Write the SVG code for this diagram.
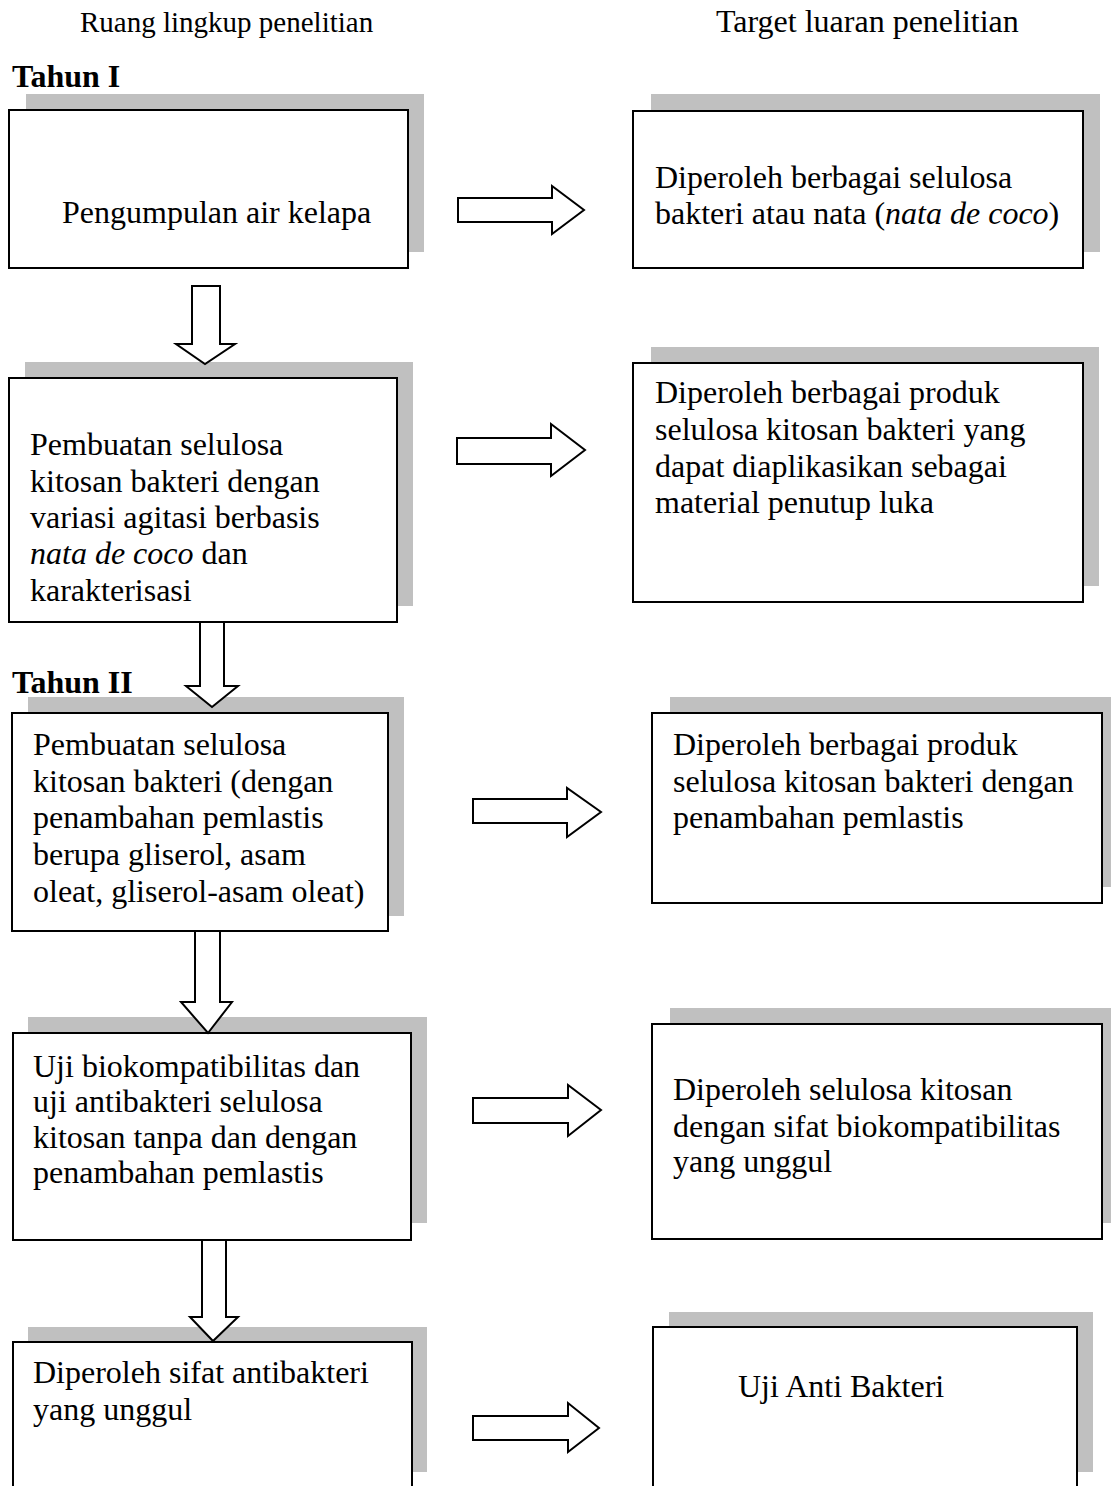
<svg xmlns="http://www.w3.org/2000/svg" width="1111" height="1486" viewBox="0 0 1111 1486">
<style>
.bg{fill:#ffffff}
.sh{fill:#c0c0c0}
.bx{fill:#ffffff;stroke:#000000;stroke-width:2}
.ar{fill:#ffffff;stroke:#000000;stroke-width:2;stroke-linejoin:miter}
.t{font-family:"Liberation Serif","Times New Roman",serif;font-size:32px;fill:#000000}
.h{font-family:"Liberation Serif","Times New Roman",serif;font-size:29px;fill:#000000}
.b{font-family:"Liberation Serif","Times New Roman",serif;font-size:32px;font-weight:bold;fill:#000000}
.i{font-style:italic}
</style>
<rect class="bg" x="0" y="0" width="1111" height="1486"/>
<g id="headers">
<text class="h" x="80" y="32">Ruang lingkup penelitian</text>
<text class="t" x="716" y="32">Target luaran penelitian</text>
<text class="b" x="12" y="87">Tahun I</text>
<text class="b" x="12" y="693">Tahun II</text>
</g>
<g id="node-L1">
<rect class="sh" x="26" y="94" width="398" height="158"/>
<rect class="bx" x="9" y="110" width="399" height="158"/>
<text class="t" x="62" y="223">Pengumpulan air kelapa</text>
</g>
<g id="node-R1">
<rect class="sh" x="651" y="94" width="449" height="158"/>
<rect class="bx" x="633" y="111" width="450" height="157"/>
<text class="t" x="655" y="188">Diperoleh berbagai selulosa</text>
<text class="t" x="655" y="224">bakteri atau nata (<tspan class="i">nata de coco</tspan>)</text>
</g>
<g id="node-L2">
<rect class="sh" x="25" y="362" width="388" height="244"/>
<rect class="bx" x="9" y="378" width="388" height="244"/>
<text class="t" x="30" y="455">Pembuatan selulosa</text>
<text class="t" x="30" y="492">kitosan bakteri dengan</text>
<text class="t" x="30" y="528">variasi agitasi berbasis</text>
<text class="t" x="30" y="564"><tspan class="i">nata de coco</tspan> dan</text>
<text class="t" x="30" y="601">karakterisasi</text>
</g>
<g id="node-R2">
<rect class="sh" x="651" y="347" width="448" height="239"/>
<rect class="bx" x="633" y="363" width="450" height="239"/>
<text class="t" x="655" y="403">Diperoleh berbagai produk</text>
<text class="t" x="655" y="440">selulosa kitosan bakteri yang</text>
<text class="t" x="655" y="477">dapat diaplikasikan sebagai</text>
<text class="t" x="655" y="513">material penutup luka</text>
</g>
<g id="node-L3">
<rect class="sh" x="28" y="697" width="376" height="219"/>
<rect class="bx" x="12" y="713" width="376" height="218"/>
<text class="t" x="33" y="755">Pembuatan selulosa</text>
<text class="t" x="33" y="792">kitosan bakteri (dengan</text>
<text class="t" x="33" y="828">penambahan pemlastis</text>
<text class="t" x="33" y="865">berupa gliserol, asam</text>
<text class="t" x="33" y="902">oleat, gliserol-asam oleat)</text>
</g>
<g id="node-R3">
<rect class="sh" x="670" y="697" width="450" height="190"/>
<rect class="bx" x="652" y="713" width="450" height="190"/>
<text class="t" x="673" y="755">Diperoleh berbagai produk</text>
<text class="t" x="673" y="792">selulosa kitosan bakteri dengan</text>
<text class="t" x="673" y="828">penambahan pemlastis</text>
</g>
<g id="node-L4">
<rect class="sh" x="28" y="1017" width="399" height="206"/>
<rect class="bx" x="13" y="1033" width="398" height="207"/>
<text class="t" x="33" y="1077">Uji biokompatibilitas dan</text>
<text class="t" x="33" y="1112">uji antibakteri selulosa</text>
<text class="t" x="33" y="1148">kitosan tanpa dan dengan</text>
<text class="t" x="33" y="1183">penambahan pemlastis</text>
</g>
<g id="node-R4">
<rect class="sh" x="670" y="1008" width="450" height="215"/>
<rect class="bx" x="652" y="1024" width="450" height="215"/>
<text class="t" x="673" y="1100">Diperoleh selulosa kitosan</text>
<text class="t" x="673" y="1137">dengan sifat biokompatibilitas</text>
<text class="t" x="673" y="1172">yang unggul</text>
</g>
<g id="node-L5">
<rect class="sh" x="28" y="1327" width="399" height="145"/>
<rect class="bx" x="13" y="1342" width="399" height="160"/>
<text class="t" x="33" y="1383">Diperoleh sifat antibakteri</text>
<text class="t" x="33" y="1420">yang unggul</text>
</g>
<g id="node-R5">
<rect class="sh" x="669" y="1312" width="424" height="160"/>
<rect class="bx" x="653" y="1327" width="424" height="175"/>
<text class="t" x="738" y="1397">Uji Anti Bakteri</text>
</g>
<g id="connectors">
<polygon class="ar" points="192,286 220,286 220,344 235,344 205,364 176,344 192,344"/>
<polygon class="ar" points="200,622 224,622 224,686 238,686 212,707 186,686 200,686"/>
<polygon class="ar" points="195,931 220,931 220,1002 232,1002 208,1033 181,1002 195,1002"/>
<polygon class="ar" points="202,1240 226,1240 226,1317 238,1317 213,1341 190,1317 202,1317"/>
<polygon class="ar" points="458,198 552,198 552,186 584,210 552,234 552,222 458,222"/>
<polygon class="ar" points="457,438 551,438 551,424 585,450 551,476 551,464 457,464"/>
<polygon class="ar" points="473,799 567,799 567,788 601,812 567,837 567,823 473,823"/>
<polygon class="ar" points="473,1098 568,1098 568,1085 601,1110 568,1136 568,1123 473,1123"/>
<polygon class="ar" points="473,1416 568,1416 568,1403 599,1428 568,1452 568,1440 473,1440"/>
</g>
</svg>
